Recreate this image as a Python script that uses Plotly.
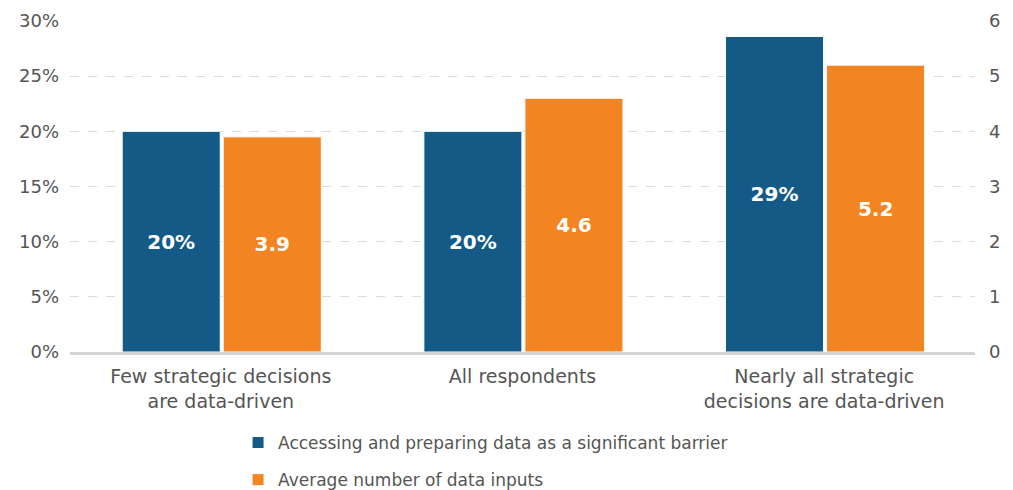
import plotly.graph_objects as go

categories = ["Few strategic decisions<br>are data-driven", "All respondents",
              "Nearly all strategic<br>decisions are data-driven"]
barrier_pct = [0.20, 0.20, 0.286]
data_inputs = [3.9, 4.6, 5.2]
series_names = ["Accessing and preparing data as a significant barrier",
                "Average number of data inputs"]

BLUE = "#135A86"
ORANGE = "#F28422"
GRAY = "#555555"
FONT = "DejaVu Sans"

fig = go.Figure()
fig.add_trace(go.Bar(
    x=categories, y=barrier_pct, name=series_names[0], yaxis="y",
    marker=dict(color=BLUE, line=dict(color="white", width=1)),
    width=0.325, offset=-0.327,
    texttemplate="%{y:.0%}", textposition="inside", insidetextanchor="middle",
    textfont=dict(color="white", size=20, family=FONT, weight="bold"),
    legendgroup="a",
))
fig.add_trace(go.Bar(
    x=categories, y=data_inputs, name=series_names[1], yaxis="y2",
    marker=dict(color=ORANGE, line=dict(color="white", width=1)),
    width=0.325, offset=0.008,
    texttemplate="%{y:.1f}", textposition="inside", insidetextanchor="middle",
    textfont=dict(color="white", size=20, family=FONT, weight="bold"),
    legendgroup="b",
))

fig.update_layout(
    width=1013, height=490,
    margin=dict(l=70, r=38, t=21, b=138, autoexpand=False),
    paper_bgcolor="white", plot_bgcolor="white",
    font=dict(family=FONT, color=GRAY, size=17),
    xaxis=dict(showline=True, linecolor="#d4d4d4", linewidth=3, automargin=False,
               tickfont=dict(size=19, color=GRAY), ticks="", ticklabelstandoff=5),
    yaxis=dict(range=[0, 0.3], dtick=0.05, tickformat=".0%", automargin=False,
               showgrid=True, gridcolor="#dcdcdc", griddash="dash", gridwidth=1,
               zeroline=False, ticklabelstandoff=10,
               tickfont=dict(size=18, color=GRAY)),
    yaxis2=dict(range=[0, 6], dtick=1, overlaying="y", side="right", automargin=False,
                showgrid=False, zeroline=False, ticklabelstandoff=13,
                tickfont=dict(size=18, color=GRAY)),
    showlegend=True,
    legend=dict(orientation="v", xref="container", yref="container",
                x=0.235, xanchor="left", y=0.1327, yanchor="top",
                font=dict(size=17, color=GRAY), traceorder="grouped",
                tracegroupgap=12, itemwidth=30),
)

fig.write_html("out.html", config={"displayModeBar": False},
               post_script="document.body.style.margin='0';")
